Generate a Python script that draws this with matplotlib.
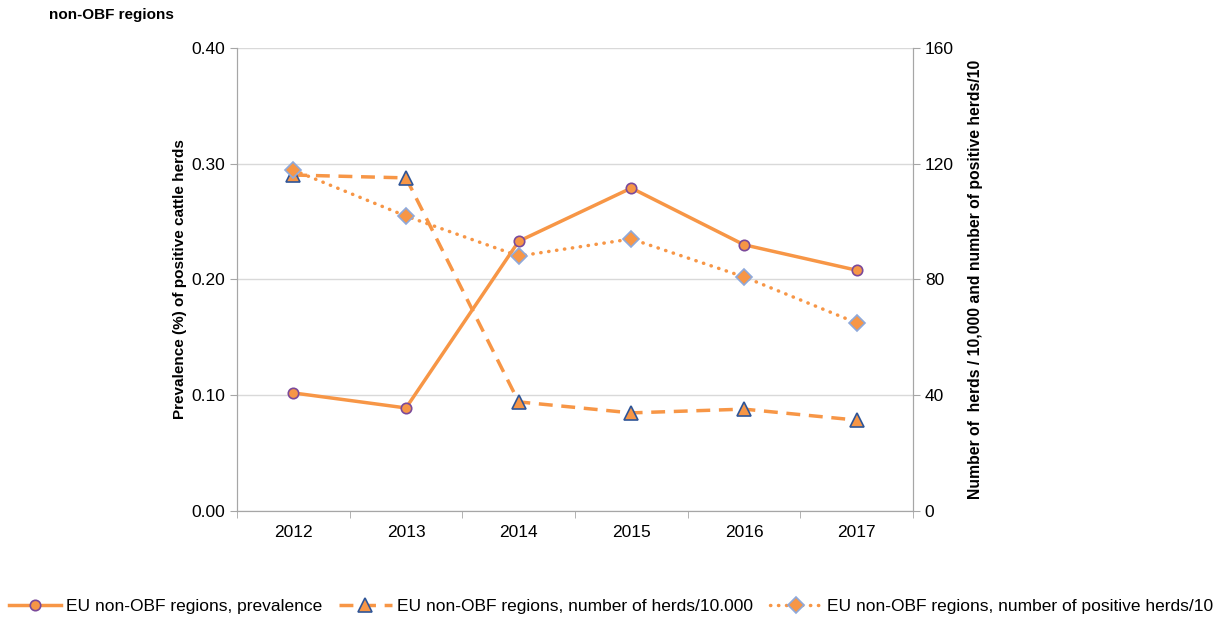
import matplotlib.pyplot as plt
import numpy as np

years = ['2012', '2013', '2014', '2015', '2016', '2017']
prevalence = [0.102, 0.089, 0.233, 0.279, 0.230, 0.208]
herds_per_10000 = [116.1, 115.1, 37.7, 33.9, 35.2, 31.4]
positive_herds_per_10 = [117.8, 101.9, 88.1, 94.0, 80.9, 65.0]

ORANGE = '#F79646'
GRID = '#D9D9D9'
SPINE = '#A6A6A6'

plt.rcParams['font.family'] = ['Liberation Sans', 'DejaVu Sans']

fig = plt.figure(figsize=(12.23, 6.19), dpi=100)
ax = fig.add_axes([0.1938, 0.1745, 0.5527, 0.748])
ax2 = ax.twinx()

x = np.arange(len(years))

l1, = ax.plot(x, prevalence, color=ORANGE, lw=2.5, marker='o', ms=7.5,
              mfc=ORANGE, mec='#7B4A9A', mew=1.2, zorder=3)
l2, = ax2.plot(x, herds_per_10000, color=ORANGE, lw=2.5, ls=(0, (4, 2.5)),
               marker='^', ms=10, mfc=ORANGE, mec='#2F5597', mew=1.2, zorder=3)
l3, = ax2.plot(x, positive_herds_per_10, color=ORANGE, lw=2.5, ls=(0, (0.1, 2.2)),
               dash_capstyle='round', marker='D', ms=8, mfc=ORANGE,
               mec='#8EA9DB', mew=1.2, zorder=3)

ax.set_xlim(-0.5, len(years) - 0.5)
ax.set_ylim(0, 0.40)
ax.set_yticks([0, 0.1, 0.2, 0.3, 0.4])
ax.set_yticklabels(['%.2f' % v for v in [0, 0.1, 0.2, 0.3, 0.4]])
ax2.set_ylim(0, 160)
ax2.set_yticks([0, 40, 80, 120, 160])

ax.set_xticks(x)
ax.set_xticklabels(years)
ax.set_xticks(np.arange(-0.5, len(years)), minor=True)
ax.tick_params(axis='x', which='major', length=0, labelsize=12.5, pad=10)
ax.tick_params(axis='x', which='minor', length=5, color=SPINE)
ax.tick_params(axis='y', labelsize=12.5, length=5, color=SPINE)
ax2.tick_params(axis='y', labelsize=12.5, length=5, color=SPINE)

ax.grid(axis='y', color=GRID, lw=1)
ax.set_axisbelow(True)
for a in (ax, ax2):
    a.spines['top'].set_visible(False)
    for s in ('left', 'right', 'bottom'):
        a.spines[s].set_color(SPINE)

ax.set_ylabel('Prevalence (%) of positive cattle herds', fontsize=11,
              fontweight='bold', labelpad=3)
ax2.set_ylabel('Number of  herds / 10,000 and number of positive herds/10',
               fontsize=11.3, fontweight='bold', labelpad=10)

fig.text(0.040, 0.976, 'non-OBF regions', fontsize=11, fontweight='bold',
         va='center', ha='left')

fig.legend([l1, l2, l3],
           ['EU non-OBF regions, prevalence',
            'EU non-OBF regions, number of herds/10.000',
            'EU non-OBF regions, number of positive herds/10'],
           loc='center', bbox_to_anchor=(0.4996, 0.021), ncol=3, frameon=False,
           fontsize=12.5, handlelength=3.0, columnspacing=1.0, handletextpad=0.3,
           borderaxespad=0, borderpad=0)

fig.savefig('out.png', dpi=100)
